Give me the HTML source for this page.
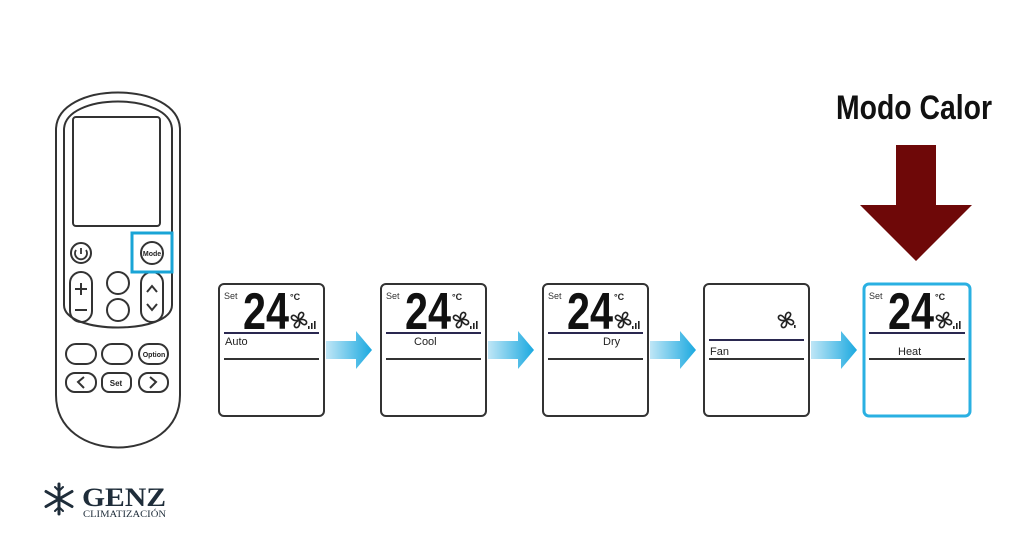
<!DOCTYPE html>
<html><head><style>
html,body{margin:0;padding:0;background:#fff;}
body{width:1024px;height:538px;overflow:hidden;}
svg text{font-family:"Liberation Sans",sans-serif;}
</style></head><body>
<svg width="1024" height="538" viewBox="0 0 1024 538" xmlns="http://www.w3.org/2000/svg">
<defs>
<linearGradient id="ag" x1="0" x2="1"><stop offset="0" stop-color="#bfe6f6"/><stop offset="1" stop-color="#1ba9e0"/></linearGradient>
<g id="arr"><path d="M0,-9 H30 V-19 L46,0 L30,19 V9 H0 Z" fill="url(#ag)"/></g>
<g id="fan"><g fill="none" stroke="#222" stroke-width="1.6"><path d="M0,0 C-2,-6 2,-9 4,-7 C6,-5 3,-2 0,0 Z"/><path d="M0,0 C6,-2 9,2 7,4 C5,6 2,3 0,0 Z"/><path d="M0,0 C2,6 -2,9 -4,7 C-6,5 -3,2 0,0 Z"/><path d="M0,0 C-6,2 -9,-2 -7,-4 C-5,-6 -2,-3 0,0 Z"/></g></g>
<g id="lcd">
<rect x="0" y="0" width="105" height="132" rx="5" fill="#fff" stroke="#333" stroke-width="2"/>
<line x1="5" y1="49" x2="100" y2="49" stroke="#2a2850" stroke-width="2"/>
<line x1="5" y1="75" x2="100" y2="75" stroke="#333" stroke-width="2"/>
</g>
<g id="temp">
<text x="5" y="15" font-size="9" fill="#333">Set</text>
<text x="24" y="45" font-size="52" font-weight="bold" fill="#111" textLength="46" lengthAdjust="spacingAndGlyphs">24</text>
<text x="71" y="16" font-size="9" font-weight="bold" fill="#222">°C</text>
<use href="#fan" x="80" y="36"/>
<rect x="89" y="42" width="1.6" height="3" fill="#222"/><rect x="92" y="39" width="1.6" height="6" fill="#222"/><rect x="95" y="37" width="1.6" height="8" fill="#222"/>
</g>
</defs>

<!-- remote -->
<g fill="none" stroke="#333" stroke-width="2">
<path d="M56,130 C56,80 180,80 180,130 V395 C180,465 56,465 56,395 Z"/>
<path d="M64,130 C64,92 172,92 172,130 V305 C172,335 64,335 64,305 Z"/>
<rect x="73" y="117" width="87" height="109" rx="3"/>
<circle cx="81" cy="253" r="10"/>
<circle cx="152" cy="253" r="11"/>
<rect x="70" y="272" width="22" height="50" rx="11"/>
<circle cx="118" cy="283" r="11"/><circle cx="118" cy="310" r="11"/>
<rect x="141" y="272" width="22" height="50" rx="11"/>
<rect x="66" y="344" width="30" height="20" rx="10"/>
<rect x="102" y="344" width="30" height="20" rx="10"/>
<rect x="139" y="344" width="29" height="20" rx="10"/>
<rect x="66" y="373" width="30" height="19" rx="9"/>
<rect x="102" y="373" width="29" height="19" rx="7"/>
<rect x="139" y="373" width="29" height="19" rx="9"/>
<path d="M81,248 V254 M76,250 A6,6 0 1 0 86,250" stroke-width="1.8"/>
<path d="M81,283 V295 M75,289 H87 M75,310 H87" stroke-width="2"/>
<path d="M147,292 L152,286 L157,292 M147,304 L152,310 L157,304" stroke-width="2"/>
<path d="M84,377 L78,382 L84,388 M150,377 L156,382 L150,388" stroke-width="2"/>
</g>
<rect x="132" y="233" width="40" height="39" fill="none" stroke="#19a4d6" stroke-width="3"/>
<text x="152" y="256" font-size="7" text-anchor="middle" font-weight="bold" fill="#222">Mode</text>
<text x="154" y="357" font-size="7" text-anchor="middle" font-weight="bold" fill="#222">Option</text>
<text x="116" y="386" font-size="8" text-anchor="middle" font-weight="bold" fill="#222">Set</text>

<!-- panels -->
<g transform="translate(219,284)"><use href="#lcd"/><use href="#temp"/><text x="6" y="61" font-size="11" fill="#222">Auto</text></g>
<g transform="translate(381,284)"><use href="#lcd"/><use href="#temp"/><text x="33" y="61" font-size="11" fill="#222">Cool</text></g>
<g transform="translate(543,284)"><use href="#lcd"/><use href="#temp"/><text x="60" y="61" font-size="11" fill="#222">Dry</text></g>
<g transform="translate(704,284)"><rect x="0" y="0" width="105" height="132" rx="5" fill="#fff" stroke="#333" stroke-width="2"/>
<use href="#fan" x="82" y="36"/><rect x="90" y="41" width="1.6" height="3" fill="#222"/>
<line x1="5" y1="56" x2="100" y2="56" stroke="#2a2850" stroke-width="2"/>
<line x1="5" y1="75" x2="100" y2="75" stroke="#333" stroke-width="2"/>
<text x="6" y="71" font-size="11" fill="#222">Fan</text></g>
<g transform="translate(864,284)"><rect x="0" y="0" width="106" height="132" rx="5" fill="#fff" stroke="#2ab0e2" stroke-width="3"/><use href="#temp"/>
<line x1="5" y1="49" x2="101" y2="49" stroke="#2a2850" stroke-width="2"/>
<line x1="5" y1="75" x2="101" y2="75" stroke="#333" stroke-width="2"/>
<text x="34" y="71" font-size="11" fill="#222">Heat</text></g>

<use href="#arr" x="326" y="350"/>
<use href="#arr" x="488" y="350"/>
<use href="#arr" x="650" y="350"/>
<use href="#arr" x="811" y="350"/>

<!-- big arrow -->
<path d="M896,145 H936 V205 H972 L916,261 L860,205 H896 Z" fill="#6e0808"/>
<text x="914" y="119" font-size="34" font-weight="bold" text-anchor="middle" fill="#111" textLength="156" lengthAdjust="spacingAndGlyphs">Modo Calor</text>

<!-- logo -->
<g stroke="#1f2d3a" stroke-width="3" stroke-linecap="round" fill="none" transform="translate(59,499)">
<path d="M0,-15 V15 M-13,-7.5 L13,7.5 M-13,7.5 L13,-7.5"/>
<path d="M-4,-12 L0,-8 L4,-12 M-4,12 L0,8 L4,12" stroke-width="2"/>
</g>
<text x="82" y="506" font-size="26" font-weight="bold" fill="#1f2d3a" style="font-family:'Liberation Serif',serif" textLength="84" lengthAdjust="spacingAndGlyphs">GENZ</text>
<text x="83" y="517" font-size="9" fill="#1f2d3a" style="font-family:'Liberation Serif',serif" textLength="83" lengthAdjust="spacingAndGlyphs">CLIMATIZACIÓN</text>
</svg>
</body></html>
